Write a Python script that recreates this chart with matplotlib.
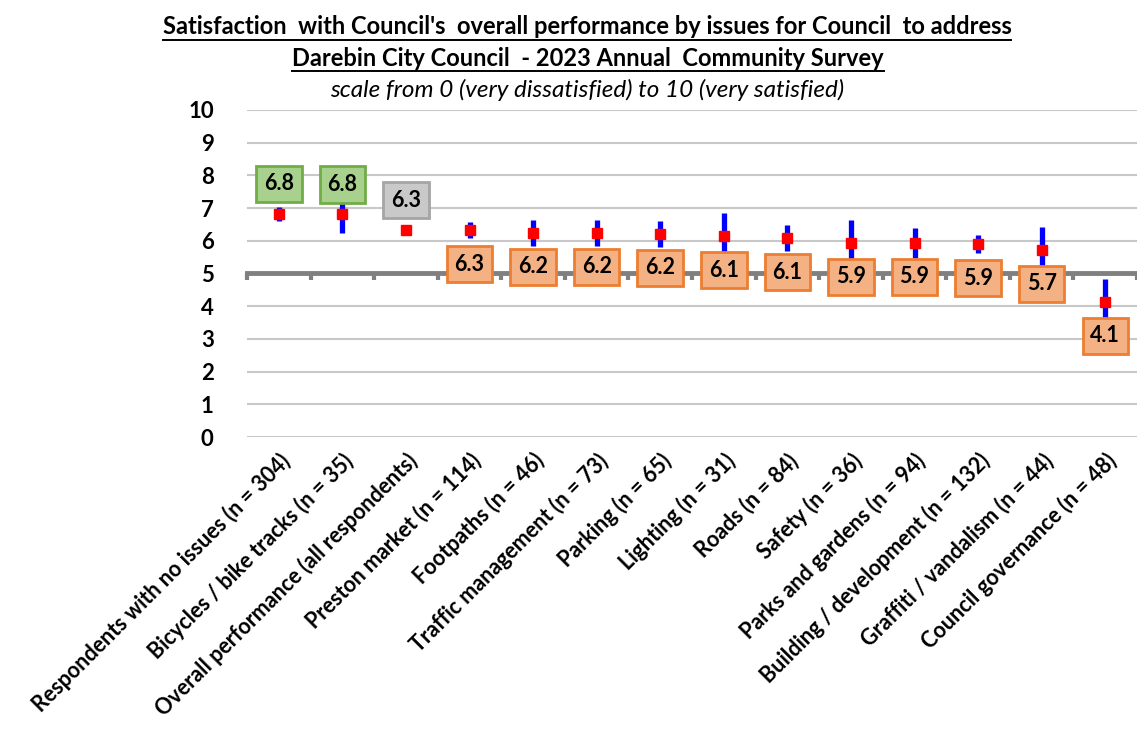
import matplotlib
matplotlib.use("Agg")
import matplotlib.pyplot as plt
from matplotlib.lines import Line2D
import numpy as np

plt.rcParams['font.family'] = ['Lato', 'DejaVu Sans']

categories = [
    "Respondents with no issues (n = 304)",
    "Bicycles / bike tracks (n = 35)",
    "Overall performance (all respondents)",
    "Preston market (n = 114)",
    "Footpaths (n = 46)",
    "Traffic management (n = 73)",
    "Parking (n = 65)",
    "Lighting (n = 31)",
    "Roads (n = 84)",
    "Safety (n = 36)",
    "Parks and gardens (n = 94)",
    "Building / development (n = 132)",
    "Graffiti / vandalism (n = 44)",
    "Council governance (n = 48)",
]
means = [6.82, 6.81, 6.33, 6.33, 6.24, 6.24, 6.21, 6.14, 6.08, 5.94, 5.94, 5.90, 5.72, 4.13]
ci_half = [0.20, 0.57, 0.12, 0.25, 0.40, 0.40, 0.40, 0.70, 0.39, 0.70, 0.46, 0.28, 0.70, 0.70]
label_group = ["above", "above", "overall"] + ["below"] * 11
yticks = list(range(0, 11))

styles = {
    "above": dict(fc="#a9d18e", ec="#70ad47", off=30),
    "overall": dict(fc="#c9c9c9", ec="#a5a5a5", off=30),
    "below": dict(fc="#f4b183", ec="#ed7d31", off=-34),
}

W, H = 1137, 731
fig = plt.figure(figsize=(W / 100, H / 100), dpi=100)
ax = fig.add_axes([247 / W, 1 - 437 / H, (1137 - 247) / W, (437 - 110) / H])

n = len(categories)
x = np.arange(n)
ax.set_xlim(-0.5, n - 0.5)
ax.set_ylim(0, 10)

# gridlines
ax.set_yticks(yticks)
ax.set_yticklabels([str(v) for v in yticks], fontsize=16, fontweight='bold')
ax.tick_params(axis='y', length=0, pad=24)
ax.grid(axis='y', color='#c8c8c8', linewidth=1.5, zorder=0)
ax.set_axisbelow(True)

for s in ['top', 'right', 'left']:
    ax.spines[s].set_visible(False)
# x axis crossing at 5
ax.spines['bottom'].set_position(('data', 5))
ax.spines['bottom'].set_color('#808080')
ax.spines['bottom'].set_linewidth(3.5)
ax.spines['bottom'].set_zorder(1)
ax.set_xticks(x)
ax.set_xticklabels([])
ax.tick_params(axis='x', which='major', length=0)
ax.set_xticks(np.arange(n + 1) - 0.5, minor=True)
ax.tick_params(axis='x', which='minor', direction='out', length=5, width=3, color='#808080')

# category labels at low position
sec = ax.secondary_xaxis(0)
sec.set_xticks(x)
sec.set_xticklabels(categories, rotation=45, ha='right', va='top',
                    rotation_mode='anchor', fontsize=15.5, fontweight='bold')
sec.tick_params(length=0, pad=9)
sec.spines['bottom'].set_visible(False)

# error bars and means
ax.errorbar(x, means, yerr=ci_half, fmt='none', ecolor='#0000ff', elinewidth=3.8,
            capsize=0, zorder=3)
ax.plot(x, means, linestyle='none', marker='s', markersize=7, color='#ff0000',
        zorder=4)

for xi, m, g in zip(x, means, label_group):
    st = styles[g]
    ax.annotate(f"{m:.1f}", (xi, m), xytext=(0, st["off"]), textcoords='offset pixels',
                ha='center', va='center', fontsize=15.5, fontweight='bold', zorder=6,
                bbox=dict(boxstyle='square,pad=0.36', fc=st["fc"], ec=st["ec"], lw=2))

# titles
t1 = fig.text(587 / W, 1 - 27 / H, "Satisfaction  with Council's  overall performance by issues for Council  to address",
              ha='center', va='center', fontsize=17, fontweight='bold')
t2 = fig.text(588 / W, 1 - 58 / H, "Darebin City Council  - 2023 Annual  Community Survey",
              ha='center', va='center', fontsize=17, fontweight='bold')
fig.text(587 / W, 1 - 90 / H, "scale from 0 (very dissatisfied) to 10 (very satisfied)",
         ha='center', va='center', fontsize=17.5, style='italic')

fig.canvas.draw()
r = fig.canvas.get_renderer()
for t in (t1, t2):
    bb = t.get_window_extent(r)
    yy = (bb.y0 - 1) / H
    fig.add_artist(Line2D([bb.x0 / W, bb.x1 / W], [yy, yy], color='black', lw=1.4,
                          transform=fig.transFigure))

fig.savefig("out.png", dpi=100)
